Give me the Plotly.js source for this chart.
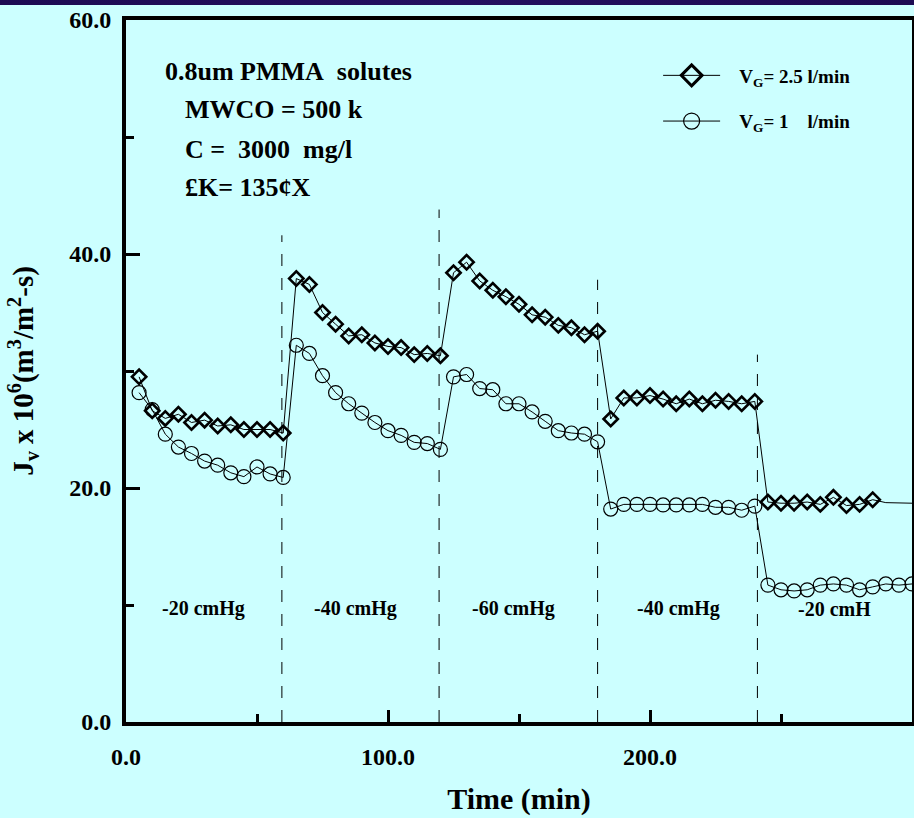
<!DOCTYPE html>
<html>
<head>
<meta charset="utf-8">
<script src="https://cdn.plot.ly/plotly-3.0.1.min.js"></script>
<style>
html,body{margin:0;padding:0;background:#CCFFFF;}
#wrap{position:relative;width:914px;height:818px;}
#chart{width:914px;height:818px;}
#strip{position:absolute;left:0;top:0;width:914px;height:5px;background:linear-gradient(90deg,#1c0a52,#221060,#1c0a52);z-index:10;}
</style>
</head>
<body>
<div id="wrap"><div id="chart"></div><div id="strip"></div></div>
<script>
// Time (min)
var timesDiamond = [5,10,15,20,25,30,35,40,45,50,55,60,65,70,75,80,85,90,95,100,105,110,115,120,125,130,135,140,145,150,155,160,165,170,175,180,185,190,195,200,205,210,215,220,225,230,235,240,245,250,255,260,265,270,275,280,285];
var fluxVG25 = [29.5,26.6,25.95,26.3,25.6,25.8,25.3,25.4,25.0,25.0,25.0,24.7,37.9,37.4,35.0,34.0,33.0,33.1,32.4,32.1,32.0,31.4,31.5,31.3,38.4,39.3,37.7,36.9,36.35,35.7,34.8,34.6,33.9,33.7,33.1,33.4,25.9,27.7,27.7,27.9,27.6,27.2,27.6,27.2,27.5,27.4,27.2,27.4,18.8,18.7,18.7,18.8,18.6,19.2,18.5,18.6,19.0];
// VG=2.5 line continues beyond the last marker
var timesDiamondTail = [285,290,300];
var fluxVG25Tail = [19.0,18.75,18.7];

var timesCircle = [5,10,15,20,25,30,35,40,45,50,55,60,65,70,75,80,85,90,95,100,105,110,115,120,125,130,135,140,145,150,155,160,165,170,175,180,185,190,195,200,205,210,215,220,225,230,235,240,245,250,255,260,265,270,275,280,285,290,295,300];
var fluxVG1 = [28.15,26.7,24.6,23.5,22.95,22.3,21.95,21.3,20.97,21.8,21.2,20.9,32.2,31.5,29.6,28.15,27.2,26.4,25.6,24.9,24.5,23.9,23.8,23.3,29.5,29.7,28.5,28.4,27.2,27.2,26.5,25.7,24.9,24.7,24.6,23.95,18.2,18.6,18.6,18.6,18.55,18.55,18.55,18.6,18.35,18.35,18.1,18.45,11.7,11.3,11.2,11.3,11.7,11.8,11.7,11.3,11.55,11.8,11.7,11.8];

// Pressure change boundaries (dashed lines) and their top ends
var boundaryTimes = [59.5,119.5,180,241];
var boundaryTops = [41.6,43.8,37.8,31.4];

// Pressure region labels
var regionLabels = ["-20 cmHg","-40 cmHg","-60 cmHg","-40 cmHg","-20 cmH"];
var regionX = [29.7,87.5,148,211,270.5];
var regionY = 9.7;

var infoLines = ["0.8um PMMA\u00a0 solutes","MWCO = 500 k","C =\u00a0 3000\u00a0 mg/l","\u00a3K= 135\u00a2X"];

var seriesNames = ["\u00a0\u00a0\u00a0V<sub>G</sub>= 2.5 l/min","\u00a0\u00a0\u00a0V<sub>G</sub>= 1\u00a0\u00a0\u00a0 l/min"];

var FONT = "Liberation Serif, Times New Roman, serif";

var traces = [
  {x: timesDiamond, y: fluxVG25, name: seriesNames[0], showlegend: false, type: "scatter", mode: "lines+markers",
   line: {color: "#000", width: 1},
   marker: {symbol: "diamond-open", size: 11, color: "#000", line: {width: 2.6, color: "#000"}}},
  {x: timesDiamondTail, y: fluxVG25Tail, type: "scatter", mode: "lines", showlegend: false,
   line: {color: "#000", width: 1}, hoverinfo: "skip"},
  {x: timesCircle, y: fluxVG1, name: seriesNames[1], showlegend: false, type: "scatter", mode: "lines+markers",
   line: {color: "#000", width: 1},
   marker: {symbol: "circle-open", size: 14, color: "#000", line: {width: 1.2, color: "#000"}}},
  // legend entries (larger symbols, as in the reference key)
  {x: [null], y: [null], name: seriesNames[0], legendgroup: "a", type: "scatter", mode: "lines+markers",
   line: {color: "#000", width: 1},
   marker: {symbol: "diamond-open", size: 16, color: "#000", line: {width: 3, color: "#000"}}},
  {x: [null], y: [null], name: seriesNames[1], legendgroup: "b", type: "scatter", mode: "lines+markers",
   line: {color: "#000", width: 1},
   marker: {symbol: "circle-open", size: 16, color: "#000", line: {width: 1.2, color: "#000"}}}
];

var shapes = boundaryTimes.map(function(t, i){
  return {type: "line", xref: "x", yref: "y", x0: t, x1: t, y0: 0, y1: boundaryTops[i],
          line: {color: "#000", width: 1, dash: "12px,12px"}, layer: "below"};
});

var annotations = regionLabels.map(function(s, i){
  return {xref: "x", yref: "y", x: regionX[i], y: regionY, text: s, showarrow: false,
          xanchor: "center", yanchor: "middle", font: {family: FONT, size: 20, color: "#000", weight: "bold"}};
});
var infoX = [0.0475, 0.073, 0.073, 0.073];
var infoY = [0.926, 0.873, 0.815, 0.762];
infoLines.forEach(function(s, i){
  annotations.push({xref: "paper", yref: "paper", x: infoX[i], y: infoY[i], text: s, showarrow: false,
    xanchor: "left", yanchor: "middle", font: {family: FONT, size: 26, color: "#000", weight: "bold"}});
});

var layout = {
  width: 914, height: 818,
  paper_bgcolor: "#CCFFFF", plot_bgcolor: "#CCFFFF",
  margin: {l: 126, r: 2, t: 20, b: 96},
  font: {family: FONT, color: "#000", weight: "bold"},
  showlegend: true,
  legend: {x: 0.677, y: 0.948, xanchor: "left", yanchor: "top", bgcolor: "rgba(0,0,0,0)",
           borderwidth: 0, itemwidth: 57, traceorder: "grouped", tracegroupgap: 18,
           font: {family: FONT, size: 19, color: "#000", weight: "bold"}},
  xaxis: {range: [0, 300], tickvals: [0, 100, 200], ticktext: ["0.0","100.0","200.0"],
          ticks: "inside", ticklen: 12, tickwidth: 3, tickcolor: "#000",
          minor: {tickvals: [50, 150, 250], ticks: "inside", ticklen: 8, tickwidth: 3, tickcolor: "#000"},
          showline: true, linewidth: 4, linecolor: "#000", mirror: true,
          showgrid: false, zeroline: false, ticklabelstandoff: 10,
          tickfont: {family: FONT, size: 24, color: "#000", weight: "bold"},
          title: {text: "Time (min)", standoff: 20, font: {family: FONT, size: 30, color: "#000", weight: "bold"}}},
  yaxis: {range: [0, 60], tickvals: [0, 20, 40, 60], ticktext: ["0.0","20.0","40.0","60.0"],
          ticks: "inside", ticklen: 14, tickwidth: 3, tickcolor: "#000",
          minor: {tickvals: [10, 30, 50], ticks: "inside", ticklen: 8, tickwidth: 3, tickcolor: "#000"},
          showline: true, linewidth: 4, linecolor: "#000", mirror: true,
          showgrid: false, zeroline: false, ticklabelstandoff: 6,
          tickfont: {family: FONT, size: 24, color: "#000", weight: "bold"},
          title: {text: "J<sub>v</sub> x 10<sup>6</sup>(m<sup>3</sup>/m<sup>2</sup>-s)", standoff: 28,
                  font: {family: FONT, size: 29, color: "#000", weight: "bold"}}},
  shapes: shapes,
  annotations: annotations
};

Plotly.newPlot("chart", traces, layout, {displayModeBar: false, staticPlot: true});
</script>
</body>
</html>
